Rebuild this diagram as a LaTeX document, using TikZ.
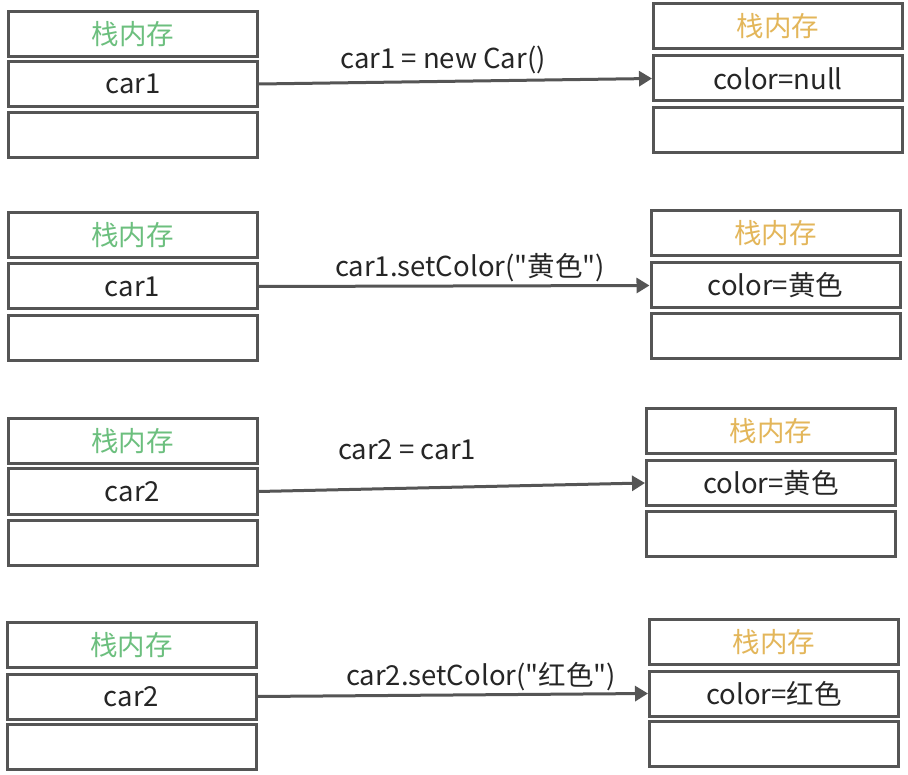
\documentclass[tikz,border=0pt]{standalone}
\usepackage{fontspec}
\setmainfont{Noto Sans CJK SC}[Ligatures=TeXOff]
\usetikzlibrary{arrows.meta}
\definecolor{edgegray}{HTML}{555555}
\definecolor{stkgreen}{HTML}{6CBF7E}
\definecolor{heapgold}{HTML}{E3B65A}
\definecolor{txtgray}{HTML}{262626}
\tikzset{
  cell/.style={rectangle,draw=edgegray,fill=white,line width=3pt,minimum width=249pt,
    minimum height=45pt,inner sep=0pt,font=\fontsize{27.5}{32}\selectfont,text=txtgray},
  stk/.style={cell,text=stkgreen},
  hp/.style={cell,text=heapgold},
  ref/.style={-{Triangle[length=13pt,width=15pt]},draw=edgegray,line width=3pt},
  lb/.style={font=\fontsize{27.5}{32}\selectfont,text=txtgray,inner sep=0pt},
}
\begin{document}
\begin{tikzpicture}[x=1pt,y=-1pt]
\useasboundingbox (0,0) rectangle (908,775);
% first step: new object
\node[stk]  (la1) at (133,34)    {栈内存};
\node[cell] (lb1) at (133,84)    {car1};
\node[cell] (lc1) at (133,135.5) {};
\node[hp]   (ra1) at (778,26.5)  {栈内存};
\node[cell] (rb1) at (778,78.5)  {color=null};
\node[cell] (rc1) at (778,130)   {};
\draw[ref] (lb1.east) -- (rb1.west);
\node[lb] (t1) at (443,60) {car1 = new Car()};
% second step
\node[stk]  (la2) at (132.5,235.5) {栈内存};
\node[cell] (lb2) at (132.5,286.5) {car1};
\node[cell] (lc2) at (132.5,338)   {};
\node[hp]   (ra2) at (775.5,233.5) {栈内存};
\node[cell] (rb2) at (775.5,285.5) {color=黄色};
\node[cell] (rc2) at (775.5,336)   {};
\draw[ref] (lb2.east) -- (rb2.west);
\node[lb] (t2) at (470,268) {car1.setColor("黄色")};
% third step
\node[stk]  (la3) at (132.5,441)   {栈内存};
\node[cell] (lb3) at (132.5,491.5) {car2};
\node[cell] (lc3) at (132.5,543)   {};
\node[hp]   (ra3) at (771,431)     {栈内存};
\node[cell] (rb3) at (771,483)     {color=黄色};
\node[cell] (rc3) at (771,534)     {};
\draw[ref] (lb3.east) -- (rb3.west);
\node[lb] (t3) at (407,450) {car2 = car1};
% fourth step
\node[stk]  (la4) at (131.5,645)   {栈内存};
\node[cell] (lb4) at (131.5,696.5) {car2};
\node[cell] (lc4) at (131.5,747)   {};
\node[hp]   (ra4) at (774,642)     {栈内存};
\node[cell] (rb4) at (774,693.5)   {color=红色};
\node[cell] (rc4) at (774,744)     {};
\draw[ref] (lb4.east) -- (rb4.west);
\node[lb] (t4) at (481,677) {car2.setColor("红色")};
\end{tikzpicture}
\end{document}
